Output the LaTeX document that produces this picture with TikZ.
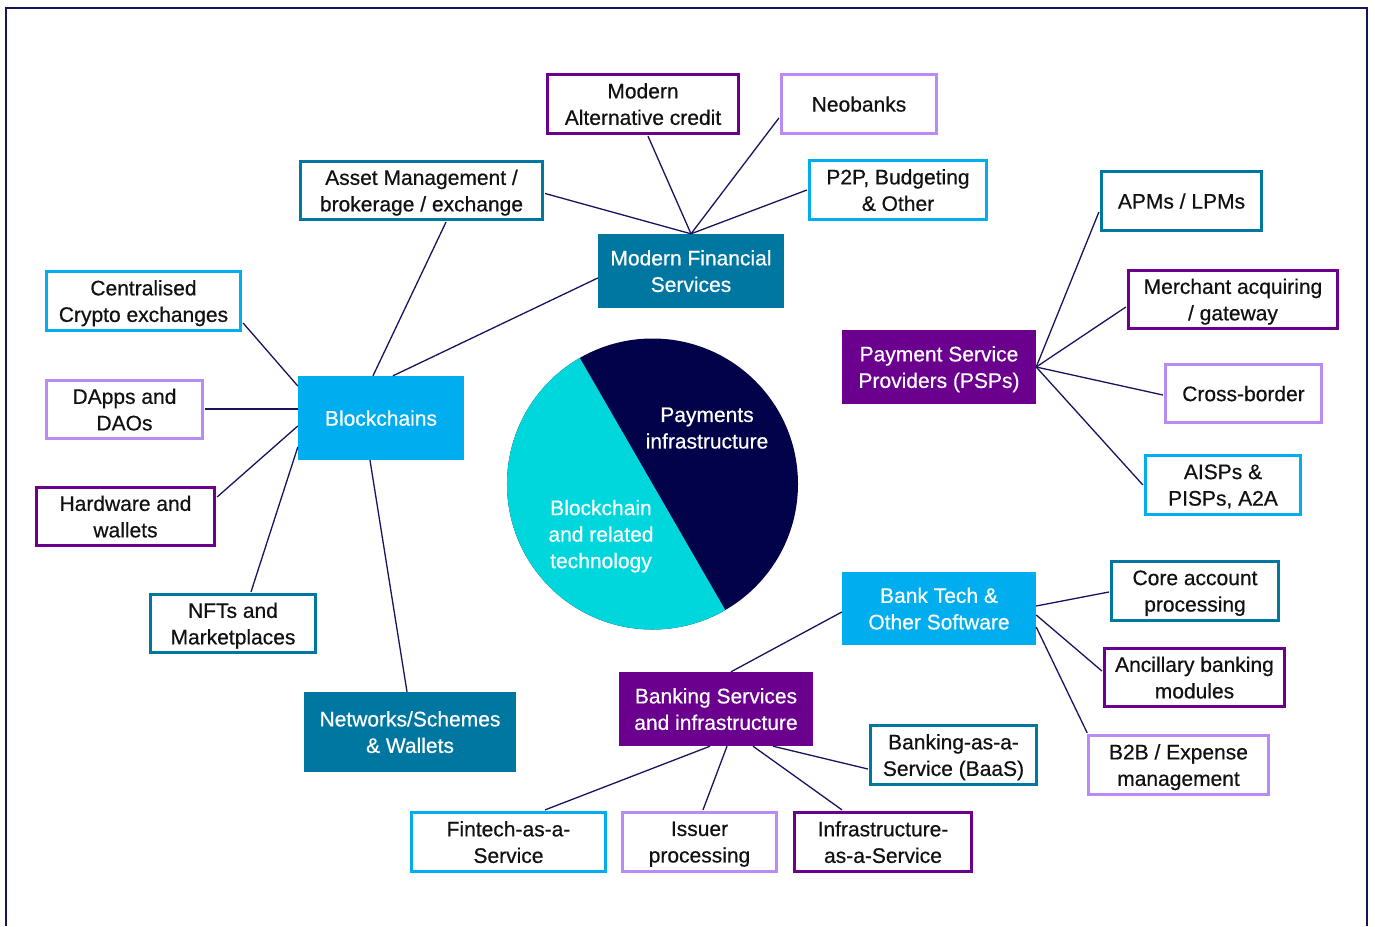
\documentclass[tikz,border=0pt]{standalone}
\usepackage{fontspec}
\setmainfont{Liberation Sans}[BoldFont={Liberation Sans}, BoldFeatures={FakeBold=0.5}]
\usetikzlibrary{calc}
\definecolor{linenavy}{HTML}{16145E}
\definecolor{pnavy}{HTML}{02024B}
\definecolor{pcyan}{HTML}{00D7DC}
\definecolor{bblue}{HTML}{00AEEF}
\definecolor{teal}{HTML}{0077A0}
\definecolor{dpurple}{HTML}{6B008F}
\definecolor{lpurple}{HTML}{B98CF5}
\definecolor{txt}{HTML}{111111}
\tikzset{
  lbl/.style={font=\fontsize{21}{26.5}\selectfont\bfseries, align=center, inner sep=0pt, text depth=0pt},
  obox/.style={lbl, draw=#1, line width=2.6pt, fill=white, text=txt},
  fbox/.style={lbl, fill=#1, text=white},
  conn/.style={draw=linenavy, line width=1.3pt},
  frame/.style={draw=linenavy, line width=2.4pt}
}
\begin{document}
\begin{tikzpicture}[x=1pt,y=-1pt]
\useasboundingbox (0,0) rectangle (1375,926);
\draw[frame] (6,926) -- (6,8) -- (1367,8) -- (1367,926);

% pie
\node[circle, fill=pnavy, minimum size=291pt, inner sep=0pt] (pie) at (652.5,484) {};
\fill[pcyan] (pie.center) -- ++(240:145.5) arc[start angle=240, end angle=60, radius=145.5] -- cycle;
\node[lbl, text=white] (payt) at (707,428) {Payments\\infrastructure};
\node[lbl, text=white] (bct) at (601,534) {Blockchain\\and related\\technology};

% filled hubs
\node[fbox=teal, minimum width=186pt, minimum height=74pt] (mfs) at (691,271) {Modern Financial\\Services};
\node[fbox=bblue, minimum width=166pt, minimum height=84pt] (bc) at (381,418) {Blockchains};
\node[fbox=teal, minimum width=212pt, minimum height=80pt] (net) at (410,732) {Networks/Schemes\\\& Wallets};
\node[fbox=dpurple, minimum width=194pt, minimum height=74pt] (psp) at (939,367) {Payment Service\\Providers (PSPs)};
\node[fbox=bblue, minimum width=194pt, minimum height=73pt] (bt) at (939,608.5) {Bank Tech \&\\Other Software};
\node[fbox=dpurple, minimum width=194pt, minimum height=74pt] (bs) at (716,709) {Banking Services\\and infrastructure};

% outlined boxes
\node[obox=dpurple, minimum width=191pt, minimum height=59pt] (alt) at (643,104) {Modern\\Alternative credit};
\node[obox=lpurple, minimum width=155pt, minimum height=59pt] (neo) at (859,104) {Neobanks};
\node[obox=teal, minimum width=242pt, minimum height=58pt] (asset) at (421.5,190.5) {Asset Management /\\brokerage / exchange};
\node[obox=bblue, minimum width=177pt, minimum height=59pt] (p2p) at (898,190) {P2P, Budgeting\\\& Other};
\node[obox=teal, minimum width=160pt, minimum height=59pt] (apms) at (1181.5,201) {APMs / LPMs};
\node[obox=dpurple, minimum width=209pt, minimum height=58pt] (merch) at (1233,299.5) {Merchant acquiring\\/ gateway};
\node[obox=lpurple, minimum width=156pt, minimum height=58pt] (cross) at (1243.5,393.5) {Cross-border};
\node[obox=bblue, minimum width=155pt, minimum height=59pt] (aisp) at (1223,485) {AISPs \&\\PISPs, A2A};
\node[obox=bblue, minimum width=194pt, minimum height=59pt] (cex) at (143.5,301) {Centralised\\Crypto exchanges};
\node[obox=lpurple, minimum width=156pt, minimum height=58pt] (dapps) at (124.5,409.5) {DApps and\\DAOs};
\node[obox=dpurple, minimum width=178pt, minimum height=58pt] (hw) at (125.5,516.5) {Hardware and\\wallets};
\node[obox=teal, minimum width=165pt, minimum height=58pt] (nft) at (233,623.5) {NFTs and\\Marketplaces};
\node[obox=teal, minimum width=167pt, minimum height=59pt] (core) at (1195,591) {Core account\\processing};
\node[obox=dpurple, minimum width=180pt, minimum height=58pt] (anc) at (1194.5,677.5) {Ancillary banking\\modules};
\node[obox=lpurple, minimum width=180pt, minimum height=59pt] (b2b) at (1178.5,765) {B2B / Expense\\management};
\node[obox=teal, minimum width=166pt, minimum height=59pt] (baas) at (953.5,755) {Banking-as-a-\\Service (BaaS)};
\node[obox=bblue, minimum width=194pt, minimum height=59pt] (fin) at (508.5,842) {Fintech-as-a-\\Service};
\node[obox=lpurple, minimum width=154pt, minimum height=59pt] (iss) at (699.5,842) {Issuer\\processing};
\node[obox=dpurple, minimum width=177pt, minimum height=59pt] (infra) at (883,842) {Infrastructure-\\as-a-Service};

% connectors: Modern Financial Services
\draw[conn] (mfs.north) -- ($(alt.south)+(5,1.3)$);
\draw[conn] (mfs.north) -- ($(neo.west)+(-1.3,14)$);
\draw[conn] (mfs.north) -- ($(asset.east)+(1.3,3)$);
\draw[conn] (mfs.north) -- ($(p2p.west)+(-1.3,0)$);
\draw[conn] ($(mfs.west)+(0,7)$) -- ($(bc.north)+(12,0)$);
\draw[conn] ($(asset.south)+(24.5,1.3)$) -- ($(bc.north)+(-8,0)$);
% Blockchains
\draw[conn] ($(bc.west)+(0,-32)$) -- ($(cex.east)+(1.3,22)$);
\draw[conn] ($(bc.west)+(0,-9)$) -- ($(dapps.east)+(1.3,-0.5)$);
\draw[conn] ($(bc.west)+(0,8)$) -- ($(hw.east)+(1.3,-19.5)$);
\draw[conn] ($(bc.west)+(0,29)$) -- ($(nft.north)+(18,-1.3)$);
\draw[conn] ($(bc.south)+(-11,0)$) -- ($(net.north)+(-3,0)$);
% PSPs
\draw[conn] (psp.east) -- ($(apms.west)+(-1.3,11)$);
\draw[conn] (psp.east) -- ($(merch.west)+(-1.3,7.5)$);
\draw[conn] (psp.east) -- ($(cross.west)+(-1.3,1.5)$);
\draw[conn] (psp.east) -- ($(aisp.west)+(-1.3,0)$);
% Bank Tech
\draw[conn] ($(bt.east)+(0,-2.5)$) -- ($(core.west)+(-1.3,1)$);
\draw[conn] ($(bt.east)+(0,6.5)$) -- ($(anc.west)+(-1.3,-6.5)$);
\draw[conn] ($(bt.east)+(0,18.5)$) -- ($(b2b.north west)+(0,-1.3)$);
\draw[conn] ($(bt.west)+(0,3.5)$) -- ($(bs.north)+(15,0)$);
% Banking Services
\draw[conn] ($(bs.south)+(-6,0)$) -- ($(fin.north)+(36.5,-1.3)$);
\draw[conn] ($(bs.south)+(11,0)$) -- ($(iss.north)+(3.5,-1.3)$);
\draw[conn] ($(bs.south)+(37,0)$) -- ($(infra.north)+(-41,-1.3)$);
\draw[conn] ($(bs.south)+(57,0)$) -- ($(baas.west)+(-1.3,14)$);
\end{tikzpicture}
\end{document}
